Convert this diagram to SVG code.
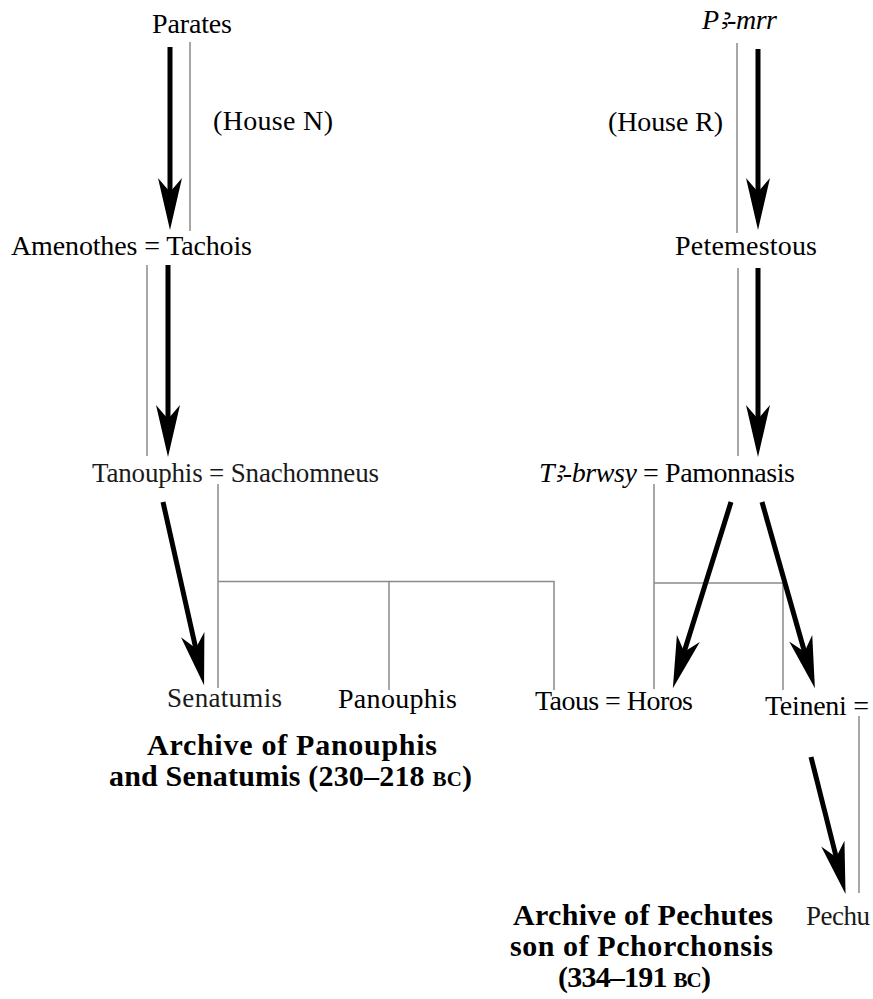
<svg xmlns="http://www.w3.org/2000/svg" width="873" height="999" viewBox="0 0 873 999">
  <style>
    text { font-family: "Liberation Serif", "DejaVu Serif", serif; fill: #000; }
    .name { font-size: 28px; }
    .lite { font-size: 27px; fill: #1a1a1a; }
    .it { font-style: italic; }
    .arch { font-size: 30px; font-weight: bold; }
    .sc { font-size: 21px; }
    .thin { stroke: #8a8a8a; stroke-width: 1.5; fill: none; }
    .thick { stroke: #000; stroke-width: 5; fill: none; marker-end: url(#head); }
  </style>
  <defs>
    <!-- barbed arrowhead; the shaft stops 30px short of the tip -->
    <marker id="head" markerUnits="userSpaceOnUse" viewBox="-54 -13 55 26" refX="-30" refY="0" markerWidth="55" markerHeight="26" orient="auto">
      <path d="M0,0 L-52,-12 L-38,0 L-52,12 Z" fill="#000"/>
    </marker>
  </defs>

  <rect width="873" height="999" fill="#fff"/>

  <!-- connectors -->
  <g id="connectors">
    <!-- House N -->
    <line class="thin" x1="190" y1="42" x2="190" y2="231"/>
    <line class="thick" x1="170" y1="47" x2="170" y2="200"/>
    <line class="thin" x1="147" y1="265" x2="147" y2="456"/>
    <line class="thick" x1="168" y1="265" x2="168" y2="427"/>
    <line class="thin" x1="218" y1="484" x2="218" y2="688"/>
    <polyline class="thin" points="389,690 389,581.5 218,581.5"/>
    <polyline class="thin" points="389,581.5 554,581.5 554,690"/>
    <line class="thick" x1="163" y1="502" x2="197.5" y2="656"/>

    <!-- House R -->
    <line class="thin" x1="737" y1="43" x2="737" y2="233"/>
    <line class="thick" x1="758" y1="49" x2="758" y2="200"/>
    <line class="thin" x1="738" y1="268" x2="738" y2="456"/>
    <line class="thick" x1="758" y1="268" x2="758" y2="427"/>
    <line class="thin" x1="654" y1="484" x2="654" y2="689"/>
    <polyline class="thin" points="654,583 783,583 783,690"/>
    <line class="thick" x1="731" y1="502" x2="681.8" y2="659.5"/>
    <line class="thick" x1="762" y1="502" x2="806.7" y2="659.5"/>
    <line class="thin" x1="859" y1="716" x2="859" y2="893"/>
    <line class="thick" x1="811" y1="757" x2="838.2" y2="865"/>
  </g>

  <!-- people -->
  <g id="parates"><text class="name" x="152" y="33" textLength="80">Parates</text></g>
  <g id="house-n"><text class="name" x="213" y="130" textLength="120">(House N)</text></g>
  <g id="amenothes-tachois"><text class="name" x="11" y="255" textLength="241">Amenothes = Tachois</text></g>
  <g id="tanouphis-snachomneus"><text class="lite" x="92" y="482" textLength="287">Tanouphis = Snachomneus</text></g>
  <g id="senatumis"><text class="lite" x="167" y="707" textLength="115">Senatumis</text></g>
  <g id="panouphis"><text class="name" x="338" y="708" textLength="119">Panouphis</text></g>
  <g id="taous-horos"><text class="name" x="535" y="710" textLength="158">Taous = Horos</text></g>

  <g id="pa-mrr"><text class="name it" x="702" y="29" textLength="75">Pꜣ-mrr</text></g>
  <g id="house-r"><text class="name" x="608" y="131" textLength="115">(House R)</text></g>
  <g id="petemestous"><text class="name" x="675" y="255" textLength="142">Petemestous</text></g>
  <g id="ta-brwsy-pamonnasis"><text class="name" x="539" y="482" textLength="256"><tspan class="it">Tꜣ-brwsy</tspan> = Pamonnasis</text></g>
  <g id="teineni"><text class="name" x="765" y="715" textLength="104">Teineni =</text></g>
  <g id="pechu"><text class="lite" x="806" y="925" textLength="64">Pechu</text></g>

  <!-- archive captions -->
  <g id="archive-panouphis">
    <text class="arch" x="147" y="755" textLength="290">Archive of Panouphis</text>
    <text class="arch" x="109" y="786" textLength="363">and Senatumis (230–218 <tspan class="sc">BC</tspan>)</text>
  </g>
  <g id="archive-pechutes">
    <text class="arch" x="513" y="925" textLength="260">Archive of Pechutes</text>
    <text class="arch" x="510" y="956" textLength="263">son of Pchorchonsis</text>
    <text class="arch" x="558" y="987" textLength="153">(334–191 <tspan class="sc">BC</tspan>)</text>
  </g>
</svg>
